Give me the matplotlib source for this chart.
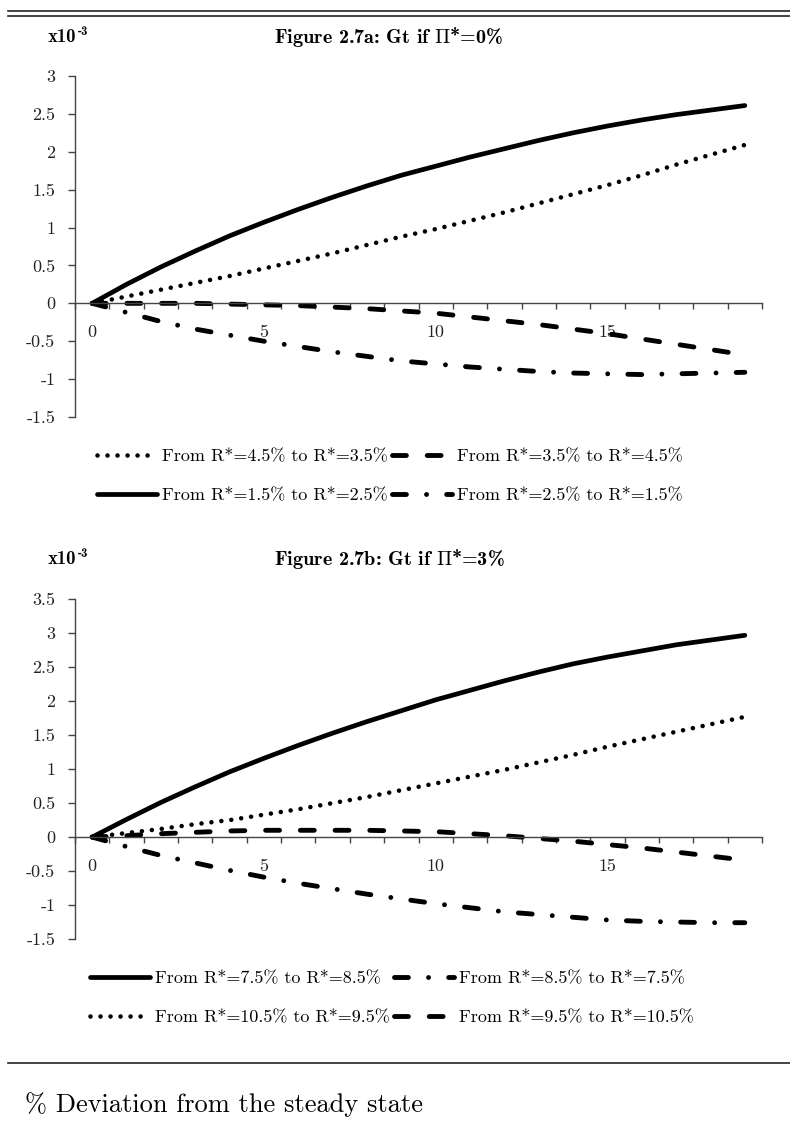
import matplotlib
matplotlib.use('Agg')
import matplotlib.pyplot as plt
from matplotlib.lines import Line2D

plt.rcParams['font.family'] = 'cmr10'
plt.rcParams['axes.unicode_minus'] = False
plt.rcParams['mathtext.fontset'] = 'cm'
plt.rcParams['lines.scale_dashes'] = False

# periods 0..19 (x axis)
periods = list(range(20))

# Figure 2.7a (values x10^-3)
a_45_35 = [0, 0.09, 0.18, 0.27, 0.36, 0.46, 0.56, 0.66, 0.77, 0.88,
           0.98, 1.09, 1.20, 1.32, 1.44, 1.56, 1.69, 1.83, 1.96, 2.09]
a_35_45 = [0, 0.00, 0.00, 0.00, -0.01, -0.02, -0.03, -0.05, -0.07, -0.10,
           -0.13, -0.18, -0.23, -0.28, -0.34, -0.40, -0.47, -0.54, -0.61, -0.68]
a_15_25 = [0, 0.25, 0.48, 0.69, 0.89, 1.07, 1.24, 1.40, 1.55, 1.69,
           1.81, 1.93, 2.04, 2.15, 2.25, 2.34, 2.42, 2.49, 2.55, 2.61]
a_25_15 = [0, -0.12, -0.24, -0.34, -0.42, -0.50, -0.57, -0.64, -0.70, -0.76,
           -0.80, -0.84, -0.87, -0.90, -0.92, -0.93, -0.94, -0.93, -0.92, -0.91]

# Figure 2.7b (values x10^-3)
b_75_85 = [0, 0.26, 0.51, 0.74, 0.96, 1.16, 1.35, 1.53, 1.70, 1.86,
           2.02, 2.16, 2.30, 2.43, 2.55, 2.65, 2.74, 2.83, 2.90, 2.97]
b_85_75 = [0, -0.14, -0.27, -0.38, -0.49, -0.59, -0.68, -0.76, -0.84, -0.91,
           -0.98, -1.04, -1.10, -1.14, -1.18, -1.22, -1.24, -1.25, -1.26, -1.26]
b_105_95 = [0, 0.06, 0.12, 0.19, 0.25, 0.33, 0.41, 0.50, 0.59, 0.69,
            0.79, 0.89, 0.99, 1.10, 1.21, 1.33, 1.44, 1.55, 1.66, 1.77]
b_95_105 = [0, 0.02, 0.05, 0.07, 0.09, 0.10, 0.10, 0.10, 0.10, 0.09,
            0.08, 0.05, 0.02, -0.02, -0.06, -0.11, -0.16, -0.22, -0.28, -0.34]

x_labels = ['0', '5', '10', '15']
x_label_pos = [0, 5, 10, 15]
a_yticks = [-1.5, -1, -0.5, 0, 0.5, 1, 1.5, 2, 2.5, 3]
b_yticks = [-1.5, -1, -0.5, 0, 0.5, 1, 1.5, 2, 2.5, 3, 3.5]

W, H = 790, 1129
fig = plt.figure(figsize=(W / 100, H / 100), dpi=100)

def fx(px):
    return px / W

def fy(py):
    return 1 - py / H

# line styles
solid = dict(color='black', lw=3.4, solid_capstyle='round', solid_joinstyle='round')
dotted = dict(color='black', lw=3.3, dashes=(0.01, 7.2), dash_capstyle='round')
dashed = dict(color='black', lw=3.5, dashes=(10, 15), dash_capstyle='round')
dashdot = dict(color='black', lw=3.5, dashes=(10, 14.5, 0.01, 14.5), dash_capstyle='round')

def setup_axes(ax, yticks, ylim):
    ax.set_xlim(-0.5, 19.5)
    ax.set_ylim(*ylim)
    for s in ['top', 'right']:
        ax.spines[s].set_visible(False)
    ax.spines['bottom'].set_position(('data', 0))
    for s in ['left', 'bottom']:
        ax.spines[s].set_color('#444444')
        ax.spines[s].set_linewidth(1.0)
    ax.set_yticks(yticks)
    ax.set_yticklabels(['%g' % v for v in yticks])
    ax.set_xticks(x_label_pos)
    ax.set_xticklabels(x_labels)
    ax.set_xticks([i - 0.5 for i in range(21)], minor=True)
    ax.tick_params(axis='x', which='major', length=0, pad=15.5, labelsize=13, labelcolor='#222222')
    ax.tick_params(axis='x', which='minor', length=4.3, width=1.0, color='#444444', direction='out')
    ax.tick_params(axis='y', length=4.8, width=1.0, color='#444444', pad=9.5, labelsize=13,
                   labelcolor='#222222')
    ax.patch.set_visible(False)

# ---- Figure 2.7a ----
ax1 = fig.add_axes([fx(75), fy(417), fx(687), 341 / H])
ax1.plot(periods, a_45_35, label='From R*=4.5% to R*=3.5%', **dotted)
ax1.plot(periods, a_15_25, label='From R*=1.5% to R*=2.5%', **solid)
ax1.plot(periods, a_35_45, label='From R*=3.5% to R*=4.5%', **dashed)
ax1.plot(periods, a_25_15, label='From R*=2.5% to R*=1.5%', **dashdot)
setup_axes(ax1, a_yticks, (-1.5, 3))

# ---- Figure 2.7b ----
ax2 = fig.add_axes([fx(75), fy(939), fx(687), 339.7 / H])
ax2.plot(periods, b_75_85, label='From R*=7.5% to R*=8.5%', **solid)
ax2.plot(periods, b_105_95, label='From R*=10.5% to R*=9.5%', **dotted)
ax2.plot(periods, b_85_75, label='From R*=8.5% to R*=7.5%', **dashdot)
ax2.plot(periods, b_95_105, label='From R*=9.5% to R*=10.5%', **dashed)
setup_axes(ax2, b_yticks, (-1.5, 3.5))

leg_kw = dict(ncol=2, frameon=False, fontsize=13, handlelength=3.3, handletextpad=0.3,
              columnspacing=0.25, labelspacing=1.3, borderpad=0, borderaxespad=0,
              loc='upper left')
h, l = ax1.get_legend_handles_labels()
fig.legend(h, l, bbox_to_anchor=(fx(97), fy(449)), **leg_kw)
h, l = ax2.get_legend_handles_labels()
fig.legend(h, l, bbox_to_anchor=(fx(90), fy(971)), **leg_kw)

# titles and scale notes
fig.text(fx(389), fy(37), r'Figure 2.7a: Gt if $\Pi$*=0%', family='cmb10', fontsize=14.5,
         ha='center', va='center')
fig.text(fx(389), fy(559), r'Figure 2.7b: Gt if $\Pi$*=3%', family='cmb10', fontsize=14.5,
         ha='center', va='center')
for yc in [37, 559]:
    fig.text(fx(48), fy(yc), 'x10', family='cmb10', fontsize=13.5, ha='left', va='center')
    fig.text(fx(78), fy(yc - 5), '-3', family='cmb10', fontsize=9, ha='left', va='center')

# horizontal rules
for yy in [11, 16, 1063]:
    fig.add_artist(Line2D([fx(8), 1], [fy(yy), fy(yy)], color='#222222', lw=1.2))

fig.text(fx(25), fy(1105), '% Deviation from the steady state', fontsize=19,
         ha='left', va='center')

fig.savefig('out.png', dpi=100)
